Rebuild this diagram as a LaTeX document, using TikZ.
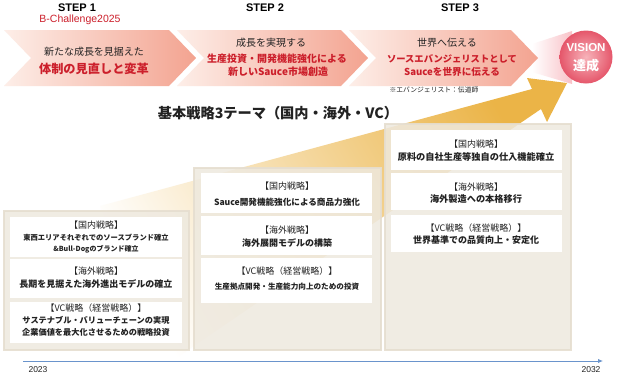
\documentclass[tikz,border=0pt]{standalone}
\usepackage{fontspec}
\newfontfamily\jp{Noto Sans CJK JP}
\newfontfamily\lat{Liberation Sans}
\usetikzlibrary{arrows.meta}
\definecolor{salmon}{HTML}{F3A390}
\definecolor{pale}{HTML}{FDEEE8}
\definecolor{redtxt}{HTML}{CC1F2B}
\definecolor{gold}{HTML}{EBB447}
\definecolor{beige}{HTML}{EEE9DF}
\definecolor{beigedark}{HTML}{E6DED0}
\definecolor{tlblue}{HTML}{6A94CC}
\definecolor{vin}{HTML}{F7B3BA}
\definecolor{vout}{HTML}{E5566A}
\definecolor{txt}{HTML}{222222}
\tikzset{
  chev/.style={left color=pale, right color=salmon},
  colframe/.style={draw=beigedark, line width=2pt, fill=beige, fill opacity=0.85, draw opacity=0.9, anchor=north west, inner sep=0pt},
  wbox/.style={fill=white, anchor=north west, inner sep=0pt},
  hd/.style={font=\jp\fontsize{9}{10}\selectfont, text=txt, inner sep=0pt},
  bd/.style={font=\jp\bfseries\fontsize{#1}{11}\selectfont, text=txt, inner sep=0pt},
  steplbl/.style={font=\lat\bfseries\fontsize{11}{13}\selectfont, inner sep=0pt},
  chblack/.style={font=\jp\fontsize{10}{12}\selectfont, text=txt, inner sep=0pt},
  chred/.style={font=\jp\bfseries\fontsize{#1}{12}\selectfont, text=redtxt, inner sep=0pt},
}
\begin{document}
\begin{tikzpicture}[x=1pt,y=-1pt]
\useasboundingbox (0,0) rectangle (624,376);
\fill[white] (0,0) rectangle (624,376);

% gold arrow
\shade[left color=white, right color=gold, shading angle=120]
  (100,206) -- (532,89) -- (527,78) -- (567,83) -- (547,122) -- (541,109) -- (150,376) -- cycle;

% pink glow toward the vision circle
\shade[left color=white, right color=vin!80] (532,44) -- (572,31) -- (572,84) -- (532,72) -- cycle;

% chevrons
\shade[chev] (4,30) -- (169,30) -- (196,58) -- (169,86) -- (4,86) -- (31,58) -- cycle;
\shade[chev] (177,30) -- (341,30) -- (368,58) -- (341,86) -- (177,86) -- (204,58) -- cycle;
\shade[chev] (349,30) -- (511,30) -- (538,58) -- (511,86) -- (349,86) -- (376,58) -- cycle;

% vision circle
\node[circle, shade, inner color=vin, outer color=vout, minimum size=53pt, inner sep=0pt] (vision) at (586,57) {};
\node[font=\lat\bfseries\fontsize{11.5}{13}\selectfont, text=white, inner sep=0pt] (visA) at (586,48) {VISION};
\node[font=\jp\bfseries\fontsize{13}{15}\selectfont, text=white, inner sep=0pt] (visB) at (586,66) {達成};

% step labels
\node[steplbl] (s1) at (77,8) {STEP 1};
\node[steplbl] (s2) at (265,8) {STEP 2};
\node[steplbl] (s3) at (460,8) {STEP 3};
\node[font=\lat\fontsize{10.5}{12}\selectfont, text=redtxt, inner sep=0pt] (bch) at (80,20) {B-Challenge2025};

% chevron texts
\node[chblack] (c1a) at (94,52) {新たな成長を見据えた};
\node[chred=12.2] (c1b) at (94,69) {体制の見直しと変革};
\node[chblack] (c2a) at (271,43) {成長を実現する};
\node[chred=10] (c2b) at (277,59) {生産投資・開発機能強化による};
\node[chred=10] (c2c) at (278,72) {新しいSauce市場創造};
\node[chblack] (c3a) at (447,43) {世界へ伝える};
\node[chred=9.3] (c3b) at (452,59) {ソースエバンジェリストとして};
\node[chred=9.6] (c3c) at (452,72) {Sauceを世界に伝える};
\node[font=\jp\fontsize{6.8}{8}\selectfont, text=txt, inner sep=0pt] (note) at (434,90) {※エバンジェリスト：伝道師};

% title
\node[font=\jp\bfseries\fontsize{14.2}{16}\selectfont, text=txt, inner sep=0pt] (title) at (278,113) {基本戦略3テーマ（国内・海外・VC）};

% columns
\node[colframe, minimum width=185pt, minimum height=139pt] (col1) at (3,210) {};
\node[colframe, minimum width=187pt, minimum height=182pt] (col2) at (193,167) {};
\node[colframe, minimum width=186pt, minimum height=226pt] (col3) at (384,123) {};

% column 1 boxes
\node[wbox, minimum width=172pt, minimum height=40pt] (b11) at (10,217) {};
\node[wbox, minimum width=172pt, minimum height=39pt] (b12) at (10,259) {};
\node[wbox, minimum width=172pt, minimum height=41pt] (b13) at (10,302) {};
% column 2 boxes
\node[wbox, minimum width=171pt, minimum height=40pt] (b21) at (201,173) {};
\node[wbox, minimum width=171pt, minimum height=39pt] (b22) at (201,216) {};
\node[wbox, minimum width=171pt, minimum height=45pt] (b23) at (201,258) {};
% column 3 boxes
\node[wbox, minimum width=171pt, minimum height=40pt] (b31) at (391,130) {};
\node[wbox, minimum width=171pt, minimum height=37pt] (b32) at (391,173) {};
\node[wbox, minimum width=171pt, minimum height=37pt] (b33) at (391,215) {};

% column 1 texts
\node[hd] (t11a) at (96,225) {【国内戦略】};
\node[bd=7.3] (t11b) at (96,238) {東西エリアそれぞれでのソースブランド確立};
\node[bd=7] (t11c) at (96,249) {\&Bull-Dogのブランド確立};
\node[hd] (t12a) at (96,271) {【海外戦略】};
\node[bd=9] (t12b) at (96,284) {長期を見据えた海外進出モデルの確立};
\node[hd] (t13a) at (96,308) {【VC戦略（経営戦略）】};
\node[bd=8.2] (t13b) at (96,320) {サステナブル・バリューチェーンの実現};
\node[bd=8.2] (t13c) at (96,332) {企業価値を最大化させるための戦略投資};
% column 2 texts
\node[hd] (t21a) at (287,186) {【国内戦略】};
\node[bd=8.6] (t21b) at (287,202) {Sauce開発機能強化による商品力強化};
\node[hd] (t22a) at (287,230) {【海外戦略】};
\node[bd=9] (t22b) at (287,243) {海外展開モデルの構築};
\node[hd] (t23a) at (287,271) {【VC戦略（経営戦略）】};
\node[bd=7.6] (t23b) at (287,287) {生産拠点開発・生産能力向上のための投資};
% column 3 texts
\node[hd] (t31a) at (476,144) {【国内戦略】};
\node[bd=9.2] (t31b) at (476,157) {原料の自社生産等独自の仕入機能確立};
\node[hd] (t32a) at (476,187) {【海外戦略】};
\node[bd=9.2] (t32b) at (476,199) {海外製造への本格移行};
\node[hd] (t33a) at (476,228) {【VC戦略（経営戦略）】};
\node[bd=9] (t33b) at (476,240) {世界基準での品質向上・安定化};

% timeline
\coordinate (tl0) at (23,361);
\coordinate (tl1) at (603,361);
\draw[tlblue, line width=0.9pt, -{Latex[length=5pt,width=4.5pt]}] (tl0) -- (tl1);
\node[font=\lat\fontsize{8.5}{10}\selectfont, text=txt, inner sep=0pt] (y1) at (38,370) {2023};
\node[font=\lat\fontsize{8.5}{10}\selectfont, text=txt, inner sep=0pt] (y2) at (591,370) {2032};
\end{tikzpicture}
\end{document}
